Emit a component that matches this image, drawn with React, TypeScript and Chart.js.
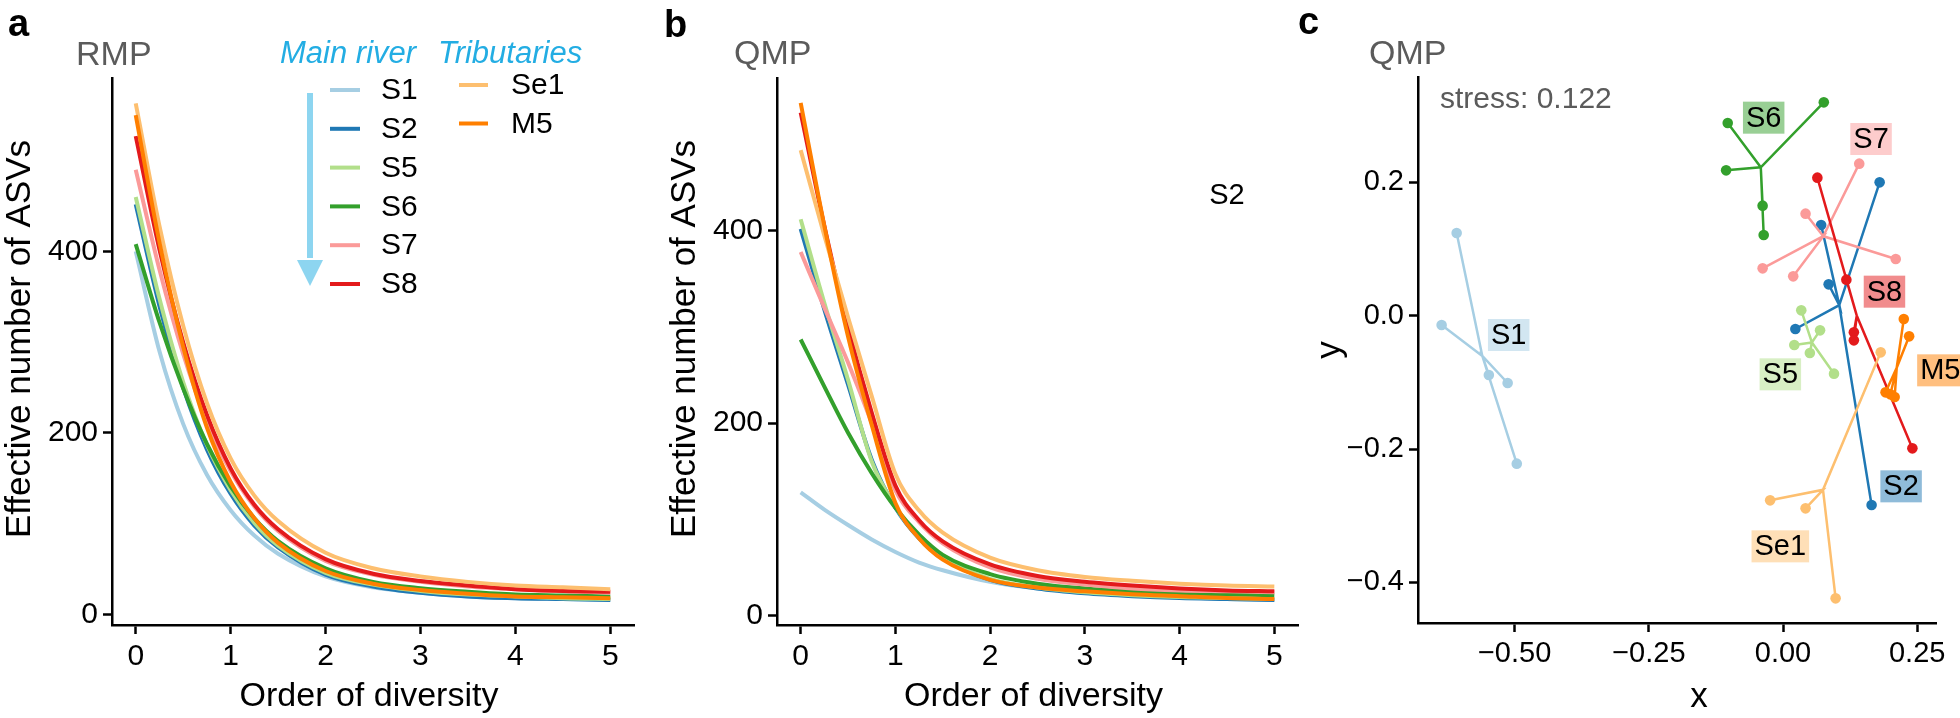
import React, { useEffect, useRef } from "react";
import { Chart, registerables } from "chart.js";

Chart.register(...registerables);

const FONT = "'Liberation Sans', Arial, Helvetica, sans-serif";
const GRAY = "#5b5b5b";
const PAGE_H = 718;

// ---------------- data ----------------
const orderQ = [0, 0.25, 0.5, 0.75, 1, 1.25, 1.5, 2, 2.5, 3, 3.5, 4, 4.5, 5];
const siteNames = ["S1", "S2", "S5", "S6", "S7", "S8", "Se1", "M5"];
const siteColors = ["#a6cee3", "#1f78b4", "#b2df8a", "#33a02c", "#fb9a99", "#e31a1c", "#fdbf6f", "#ff7f00"];
const mainRiverSites = ["S1", "S2", "S5", "S6", "S7", "S8"];
const tributarySites = ["Se1", "M5"];

// Panel a: RMP diversity profiles
const rmpS1 = [400, 290, 210, 154, 115, 87, 67, 42, 30, 24, 20, 18, 17, 16];
const rmpS2 = [452, 340, 250, 182, 133, 98, 74, 44, 31, 24, 20, 18, 17, 16];
const rmpS5 = [460, 348, 256, 187, 137, 101, 76, 46, 33, 26, 22, 20, 18, 17];
const rmpS6 = [408, 322, 249, 188, 141, 106, 81, 51, 36, 29, 25, 22, 21, 20];
const rmpS7 = [490, 380, 287, 213, 158, 119, 92, 59, 44, 36, 31, 28, 26, 24];
const rmpS8 = [527, 402, 300, 220, 161, 121, 94, 61, 45, 37, 32, 28, 26, 25];
const rmpSe1 = [563, 428, 318, 233, 172, 131, 103, 68, 51, 42, 36, 32, 30, 28];
const rmpM5 = [550, 410, 295, 206, 146, 106, 79, 48, 34, 27, 23, 20, 19, 18];

// Panel b: QMP diversity profiles
const qmpS1 = [128, 110, 94, 79, 66, 55, 47, 35, 28, 24, 21, 19, 17, 16];
const qmpS2 = [402, 318, 240, 162, 112, 80, 59, 37, 28, 23, 20, 18, 17, 16];
const qmpS5 = [412, 325, 245, 160, 113, 81, 60, 38, 29, 24, 21, 19, 18, 17];
const qmpS6 = [287, 238, 190, 148, 112, 84, 63, 43, 33, 28, 25, 23, 22, 21];
const qmpS7 = [378, 320, 263, 200, 130, 97, 75, 50, 38, 32, 28, 26, 25, 24];
const qmpS8 = [523, 405, 300, 211, 135, 99, 77, 53, 41, 35, 31, 28, 26, 25];
const qmpSe1 = [484, 395, 310, 228, 147, 109, 86, 60, 47, 40, 36, 33, 31, 30];
const qmpM5 = [533, 405, 290, 198, 117, 80, 58, 37, 29, 25, 22, 20, 18, 17];

const rmpSeries = [rmpS1, rmpS2, rmpS5, rmpS6, rmpS7, rmpS8, rmpSe1, rmpM5];
const qmpSeries = [qmpS1, qmpS2, qmpS5, qmpS6, qmpS7, qmpS8, qmpSe1, qmpM5];

const diversityTicksX = [0, 1, 2, 3, 4, 5];
const diversityTicksY = [0, 200, 400];
const qmpNoteText = "S2";
const qmpNoteQ = 4.5;
const qmpNoteValue = 436;

// Panel c: NMDS (QMP)
const nmdsS1x = [-0.608, -0.636, -0.548, -0.513, -0.496];
const nmdsS1y = [0.124, -0.014, -0.089, -0.101, -0.222];
const nmdsS2x = [0.18, 0.071, 0.085, 0.023, 0.165];
const nmdsS2y = [0.2, 0.136, 0.047, -0.02, -0.284];
const nmdsS5x = [0.034, 0.069, 0.021, 0.05, 0.095];
const nmdsS5y = [0.008, -0.022, -0.044, -0.056, -0.087];
const nmdsS6x = [-0.103, 0.076, -0.106, -0.038, -0.036];
const nmdsS6y = [0.289, 0.32, 0.218, 0.165, 0.121];
const nmdsS7x = [0.142, 0.042, 0.21, -0.038, 0.019];
const nmdsS7y = [0.228, 0.153, 0.085, 0.071, 0.059];
const nmdsS8x = [0.064, 0.118, 0.132, 0.132, 0.241];
const nmdsS8y = [0.207, 0.054, -0.025, -0.037, -0.199];
const nmdsSe1x = [0.182, -0.024, 0.042, 0.098];
const nmdsSe1y = [-0.055, -0.277, -0.289, -0.424];
const nmdsM5x = [0.225, 0.235, 0.191, 0.208, 0.2];
const nmdsM5y = [-0.005, -0.031, -0.115, -0.122, -0.118];

const nmdsX = [nmdsS1x, nmdsS2x, nmdsS5x, nmdsS6x, nmdsS7x, nmdsS8x, nmdsSe1x, nmdsM5x];
const nmdsY = [nmdsS1y, nmdsS2y, nmdsS5y, nmdsS6y, nmdsS7y, nmdsS8y, nmdsSe1y, nmdsM5y];
const nmdsLabelX = [-0.511, 0.22, -0.005, -0.036, 0.164, 0.189, -0.005, 0.293];
const nmdsLabelY = [-0.029, -0.256, -0.088, 0.297, 0.265, 0.036, -0.346, -0.082];

const nmdsTicksX = [-0.5, -0.25, 0, 0.25];
const nmdsTickLabelsX = ["\u22120.50", "\u22120.25", "0.00", "0.25"];
const nmdsTicksY = [-0.4, -0.2, 0, 0.2];
const nmdsTickLabelsY = ["\u22120.4", "\u22120.2", "0.0", "0.2"];
const stressText = "stress: 0.122";

// ---------------- helpers ----------------
function hexA(hex: string, a: number) {
  const n = parseInt(hex.slice(1), 16);
  return `rgba(${(n >> 16) & 255},${(n >> 8) & 255},${n & 255},${a})`;
}

function drawText(
  ctx: CanvasRenderingContext2D,
  s: string,
  x: number,
  y: number,
  o: { size: number; color?: string; align?: CanvasTextAlign; baseline?: CanvasTextBaseline; weight?: string; style?: string; rotate?: number }
) {
  ctx.save();
  ctx.font = `${o.style || "normal"} ${o.weight || "normal"} ${o.size}px ${FONT}`;
  ctx.fillStyle = o.color || "#000";
  ctx.textAlign = o.align || "left";
  ctx.textBaseline = o.baseline || "alphabetic";
  ctx.translate(x, y);
  if (o.rotate) ctx.rotate(o.rotate);
  ctx.fillText(s, 0, 0);
  ctx.restore();
}

function linearAxis(axis: "x" | "y", min: number, max: number, ticks: number[], labels: string[] | null, size: number, fontSize: number) {
  return {
    type: "linear",
    min,
    max,
    afterBuildTicks: (s: any) => {
      s.ticks = ticks.map((v) => ({ value: v }));
    },
    afterFit: (s: any) => {
      if (axis === "x") {
        s.height = size;
        s.paddingLeft = 0;
        s.paddingRight = 0;
      } else {
        s.width = size;
        s.paddingTop = 0;
        s.paddingBottom = 0;
      }
    },
    border: { display: true, color: "#000", width: 2.5 },
    grid: {
      display: true,
      drawOnChartArea: false,
      drawTicks: true,
      tickLength: 9,
      tickWidth: 2.5,
      tickColor: "#000",
      color: "#000",
    },
    ticks: {
      color: "#000",
      font: { family: FONT, size: fontSize },
      padding: 5,
      autoSkip: false,
      maxRotation: 0,
      minRotation: 0,
      callback: (v: any) => {
        const i = ticks.indexOf(v);
        return labels ? labels[i] : String(v);
      },
    },
  };
}

function diversityDatasets(series: number[][]) {
  return series.map((arr, i) => ({
    label: siteNames[i],
    data: orderQ.map((q, k) => ({ x: q, y: arr[k] })),
    borderColor: siteColors[i],
    backgroundColor: siteColors[i],
    borderWidth: 4,
    pointRadius: 0,
    cubicInterpolationMode: "monotone",
    fill: false,
    order: siteNames.length - i,
  }));
}

function diversityDecor(chart: any) {
  const ctx = chart.ctx as CanvasRenderingContext2D;
  const a = chart.chartArea;
  drawText(ctx, "Effective number of ASVs", a.left - 92, 339, {
    size: 35, align: "center", baseline: "middle", rotate: -Math.PI / 2,
  });
  drawText(ctx, "Order of diversity", (a.left + a.right) / 2 - 4, 697, { size: 34, align: "center", baseline: "middle" });
}

// ---------------- chart configs ----------------
function configA(): any {
  const decor = {
    id: "decorA",
    afterDraw(chart: any) {
      const ctx = chart.ctx as CanvasRenderingContext2D;
      drawText(ctx, "a", 8, 36, { size: 38, weight: "bold" });
      drawText(ctx, "RMP", 76, 65, { size: 34, color: GRAY });
      diversityDecor(chart);
      // legend
      const legBlue = "#23ade3";
      drawText(ctx, "Main river", 280, 63, { size: 31, style: "italic", color: legBlue });
      drawText(ctx, "Tributaries", 438, 63, { size: 31, style: "italic", color: legBlue });
      ctx.save();
      ctx.strokeStyle = "#8dd5f0";
      ctx.fillStyle = "#8dd5f0";
      ctx.lineWidth = 6;
      ctx.beginPath();
      ctx.moveTo(310, 93);
      ctx.lineTo(310, 258);
      ctx.stroke();
      ctx.beginPath();
      ctx.moveTo(297, 260);
      ctx.lineTo(323, 260);
      ctx.lineTo(310, 286);
      ctx.closePath();
      ctx.fill();
      ctx.lineWidth = 4;
      mainRiverSites.forEach((s, i) => {
        const y = 90 + i * 38.8;
        ctx.strokeStyle = siteColors[siteNames.indexOf(s)];
        ctx.beginPath();
        ctx.moveTo(330, y);
        ctx.lineTo(360, y);
        ctx.stroke();
        drawText(ctx, s, 381, y + 1, { size: 30, baseline: "middle" });
      });
      tributarySites.forEach((s, i) => {
        const y = 85 + i * 38.5;
        ctx.strokeStyle = siteColors[siteNames.indexOf(s)];
        ctx.beginPath();
        ctx.moveTo(459, y);
        ctx.lineTo(488, y);
        ctx.stroke();
        drawText(ctx, s, 511, y + 1, { size: 30, baseline: "middle" });
      });
      ctx.restore();
    },
  };
  return {
    type: "line",
    data: { datasets: diversityDatasets(rmpSeries) },
    options: {
      responsive: false,
      animation: false,
      devicePixelRatio: 1,
      layout: { padding: { left: 0, top: 78, right: 21, bottom: 0 } },
      plugins: { legend: { display: false }, tooltip: { enabled: false }, title: { display: false } },
      scales: {
        x: linearAxis("x", -0.25, 5.25, diversityTicksX, null, 93, 30),
        y: linearAxis("y", -11.5, 591, diversityTicksY, null, 112, 30),
      },
    },
    plugins: [decor],
  };
}

function configB(): any {
  const decor = {
    id: "decorB",
    afterDraw(chart: any) {
      const ctx = chart.ctx as CanvasRenderingContext2D;
      const a = chart.chartArea;
      drawText(ctx, "b", 9, 37, { size: 38, weight: "bold" });
      drawText(ctx, "QMP", a.left - 43, 64, { size: 34, color: GRAY });
      diversityDecor(chart);
      const xs = chart.scales.x, ys = chart.scales.y;
      drawText(ctx, qmpNoteText, xs.getPixelForValue(qmpNoteQ), ys.getPixelForValue(qmpNoteValue), {
        size: 29, align: "center", baseline: "middle",
      });
    },
  };
  return {
    type: "line",
    data: { datasets: diversityDatasets(qmpSeries) },
    options: {
      responsive: false,
      animation: false,
      devicePixelRatio: 1,
      layout: { padding: { left: 0, top: 78, right: 12, bottom: 0 } },
      plugins: { legend: { display: false }, tooltip: { enabled: false }, title: { display: false } },
      scales: {
        x: linearAxis("x", -0.25, 5.25, diversityTicksX, null, 93, 30),
        y: linearAxis("y", -10, 559, diversityTicksY, null, 122, 30),
      },
    },
    plugins: [decor],
  };
}

function configC(): any {
  const datasets = siteNames.map((name, i) => {
    const xs = nmdsX[i];
    const ys = nmdsY[i];
    const cx = xs.reduce((s, v) => s + v, 0) / xs.length;
    const cy = ys.reduce((s, v) => s + v, 0) / ys.length;
    const data: { x: number; y: number }[] = [];
    xs.forEach((x, k) => {
      data.push({ x: cx, y: cy });
      data.push({ x, y: ys[k] });
    });
    return {
      label: name,
      data,
      showLine: true,
      borderColor: siteColors[i],
      backgroundColor: siteColors[i],
      borderWidth: 2.5,
      pointRadius: (c: any) => (c.dataIndex % 2 === 1 ? 5.3 : 0),
      pointBorderWidth: 0,
      pointBackgroundColor: siteColors[i],
      tension: 0,
      order: siteNames.length - i,
    };
  });
  const decor = {
    id: "decorC",
    afterDatasetsDraw(chart: any) {
      const ctx = chart.ctx as CanvasRenderingContext2D;
      const xs = chart.scales.x, ys = chart.scales.y;
      ctx.save();
      ctx.font = `normal normal 29px ${FONT}`;
      siteNames.forEach((name, i) => {
        const px = xs.getPixelForValue(nmdsLabelX[i]);
        const py = ys.getPixelForValue(nmdsLabelY[i]);
        const w = ctx.measureText(name).width + 6;
        const h = 32;
        ctx.fillStyle = hexA(siteColors[i], 0.5);
        ctx.fillRect(px - w / 2, py - h / 2, w, h);
        drawText(ctx, name, px, py + 1, { size: 29, align: "center", baseline: "middle" });
      });
      ctx.restore();
    },
    afterDraw(chart: any) {
      const ctx = chart.ctx as CanvasRenderingContext2D;
      const a = chart.chartArea;
      drawText(ctx, "c", 8, 34, { size: 38, weight: "bold" });
      drawText(ctx, "QMP", a.left - 49, 64, { size: 34, color: GRAY });
      drawText(ctx, stressText, a.left + 22, 108, { size: 30, color: GRAY });
      drawText(ctx, "y", a.left - 88, (a.top + a.bottom) / 2, {
        size: 35, align: "center", baseline: "middle", rotate: -Math.PI / 2,
      });
      drawText(ctx, "x", (a.left + a.right) / 2 + 22, 697, { size: 35, align: "center", baseline: "middle" });
    },
  };
  return {
    type: "scatter",
    data: { datasets },
    options: {
      responsive: false,
      animation: false,
      devicePixelRatio: 1,
      layout: { padding: { left: 0, top: 77, right: 24, bottom: 0 } },
      plugins: { legend: { display: false }, tooltip: { enabled: false }, title: { display: false } },
      scales: {
        x: linearAxis("x", -0.68, 0.285, nmdsTicksX, nmdsTickLabelsX, 95, 29),
        y: linearAxis("y", -0.461, 0.358, nmdsTicksY, nmdsTickLabelsY, 128, 29),
      },
    },
    plugins: [decor],
  };
}

function Panel({ left, width, make }: { left: number; width: number; make: () => any }) {
  const ref = useRef<HTMLCanvasElement>(null);
  useEffect(() => {
    const chart = new Chart(ref.current as HTMLCanvasElement, make());
    return () => chart.destroy();
  }, []);
  return (
    <div style={{ position: "absolute", left, top: 0, width, height: PAGE_H }}>
      <canvas ref={ref} width={width} height={PAGE_H} style={{ display: "block" }} />
    </div>
  );
}

export default function App() {
  return (
    <div style={{ position: "absolute", left: 0, top: 0, width: 1960, height: PAGE_H, background: "#fff" }}>
      <Panel left={0} width={655} make={configA} />
      <Panel left={655} width={655} make={configB} />
      <Panel left={1290} width={670} make={configC} />
    </div>
  );
}
